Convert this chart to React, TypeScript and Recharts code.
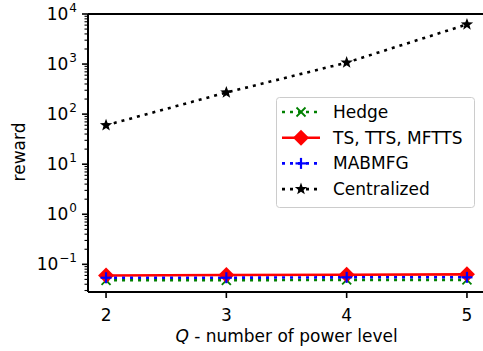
import React from 'react'
import { LineChart, Line, XAxis, YAxis, ReferenceLine, Label } from 'recharts'

// Q levels on the x axis
const qLevels = [2, 3, 4, 5]
// rewards
const hedge = [0.048, 0.048, 0.049, 0.049]
const tsFamily = [0.06, 0.061, 0.062, 0.063]
const mabmfg = [0.054, 0.054, 0.055, 0.055]
const centralized = [60, 270, 1070, 6200]

const majorTicks = [0.1, 1, 10, 100, 1000, 10000]
const majorExp = ['−1', '0', '1', '2', '3', '4']
const minorMult = [2, 3, 4, 5, 6, 7, 8, 9]
const decades = [0.01, 0.1, 1, 10, 100, 1000]

const yMin = 0.028
const yMax = 10000

const data = qLevels.map((q, i) => ({
  q,
  hedge: hedge[i],
  ts: tsFamily[i],
  mabmfg: mabmfg[i],
  centralized: centralized[i],
}))

const allTicks = [
  ...majorTicks,
  ...decades.flatMap((d) => minorMult.map((m) => +(m * d).toPrecision(3))),
].filter((v) => v >= yMin && v <= yMax).sort((a, b) => a - b)

const font = 'DejaVu Sans, sans-serif'
const fs = 17
const dots = '3 5'

function XMark({ cx, cy }: any) {
  const s = 4.5
  return (
    <g stroke="green" strokeWidth={1.8}>
      <line x1={cx - s} y1={cy - s} x2={cx + s} y2={cy + s} />
      <line x1={cx - s} y1={cy + s} x2={cx + s} y2={cy - s} />
    </g>
  )
}

function Diamond({ cx, cy }: any) {
  const s = 8
  return <polygon points={`${cx},${cy - s} ${cx + s},${cy} ${cx},${cy + s} ${cx - s},${cy}`} fill="red" />
}

function Plus({ cx, cy }: any) {
  const s = 5.5
  return (
    <g stroke="blue" strokeWidth={2.2}>
      <line x1={cx - s} y1={cy} x2={cx + s} y2={cy} />
      <line x1={cx} y1={cy - s} x2={cx} y2={cy + s} />
    </g>
  )
}

function Star({ cx, cy }: any) {
  const pts: string[] = []
  for (let k = 0; k < 10; k++) {
    const r = k % 2 === 0 ? 6.5 : 2.7
    const a = -Math.PI / 2 + (k * Math.PI) / 5
    pts.push(`${cx + r * Math.cos(a)},${cy + r * Math.sin(a)}`)
  }
  return <polygon points={pts.join(' ')} fill="black" />
}

function YTick({ x, y, payload }: any) {
  const v = payload.value
  const idx = majorTicks.findIndex((t) => Math.abs(t - v) / t < 1e-6)
  const major = idx >= 0
  return (
    <g>
      <line x1={x} y1={y} x2={x - (major ? 6 : 3.5)} y2={y} stroke="black" strokeWidth={major ? 1.6 : 1.1} />
      {major && (
        <text x={x - 11} y={y + 6} textAnchor="end" fontSize={fs} fontFamily={font} fill="black">
          <tspan>10</tspan>
          <tspan dy={-8} dx={1} fontSize={12}>{majorExp[idx]}</tspan>
        </text>
      )}
    </g>
  )
}

function XTick({ x, y, payload }: any) {
  return (
    <g>
      <line x1={x} y1={y} x2={x} y2={y + 6} stroke="black" strokeWidth={1.6} />
      <text x={x} y={y + 29} textAnchor="middle" fontSize={fs} fontFamily={font} fill="black">
        {payload.value}
      </text>
    </g>
  )
}

const legendItems = [
  { name: 'Hedge', color: 'green', dash: dots, Marker: XMark },
  { name: 'TS, TTS, MFTTS', color: 'red', dash: undefined, Marker: Diamond },
  { name: 'MABMFG', color: 'blue', dash: dots, Marker: Plus },
  { name: 'Centralized', color: 'black', dash: dots, Marker: Star },
]

function LegendBox() {
  return (
    <svg width={199} height={111} style={{ display: 'block' }}>
      <rect x={0.5} y={0.5} width={198} height={110} rx={3} fill="white" fillOpacity={0.8} stroke="#cccccc" />
      {legendItems.map((it, i) => {
        const cy = 15 + i * 25.7
        return (
          <g key={it.name}>
            <line x1={6} y1={cy} x2={44} y2={cy} stroke={it.color} strokeWidth={2.6} strokeDasharray={it.dash} />
            <it.Marker cx={25} cy={cy} />
            <text x={57} y={cy + 6} fontSize={fs} fontFamily={font} fill="black">{it.name}</text>
          </g>
        )
      })}
    </svg>
  )
}

export default function App() {
  return (
    <div style={{ position: 'absolute', left: 0, top: 0, width: 483, height: 351, overflow: 'hidden', background: 'white' }}>
      <LineChart width={490} height={351} data={data} margin={{ top: 14, right: 5, left: 0, bottom: 0 }}>
        <XAxis
          dataKey="q"
          type="number"
          domain={[1.85, 5.15]}
          ticks={qLevels}
          allowDataOverflow
          height={59}
          tickLine={false}
          tickSize={0}
          tickMargin={0}
          axisLine={{ stroke: 'black', strokeWidth: 2 }}
          tick={<XTick />}
        >
          <Label
            content={() => (
              <text x={286.5} y={342} textAnchor="middle" fontSize={fs} fontFamily={font} fill="black">
                <tspan fontStyle="italic">Q</tspan>
                <tspan> - number of power level</tspan>
              </text>
            )}
          />
        </XAxis>
        <YAxis
          type="number"
          scale="log"
          domain={[yMin, yMax]}
          allowDataOverflow
          ticks={allTicks}
          interval={0}
          width={88}
          tickLine={false}
          tickSize={0}
          tickMargin={0}
          axisLine={{ stroke: 'black', strokeWidth: 2 }}
          tick={<YTick />}
        >
          <Label
            content={() => (
              <text x={25} y={152} textAnchor="middle" fontSize={fs} fontFamily={font} fill="black" transform="rotate(-90 25 152)">
                reward
              </text>
            )}
          />
        </YAxis>
        <ReferenceLine y={yMax} stroke="black" strokeWidth={2} ifOverflow="extendDomain" />
        <Line dataKey="hedge" stroke="green" strokeWidth={2.6} strokeDasharray={dots} dot={<XMark />} isAnimationActive={false} />
        <Line dataKey="ts" stroke="red" strokeWidth={2.6} dot={<Diamond />} isAnimationActive={false} />
        <Line dataKey="mabmfg" stroke="blue" strokeWidth={2.6} strokeDasharray={dots} dot={<Plus />} isAnimationActive={false} />
        <Line dataKey="centralized" stroke="black" strokeWidth={2.6} strokeDasharray={dots} dot={<Star />} isAnimationActive={false} />
      </LineChart>
      <div style={{ position: 'absolute', left: 276, top: 97 }}>
        <LegendBox />
      </div>
    </div>
  )
}
